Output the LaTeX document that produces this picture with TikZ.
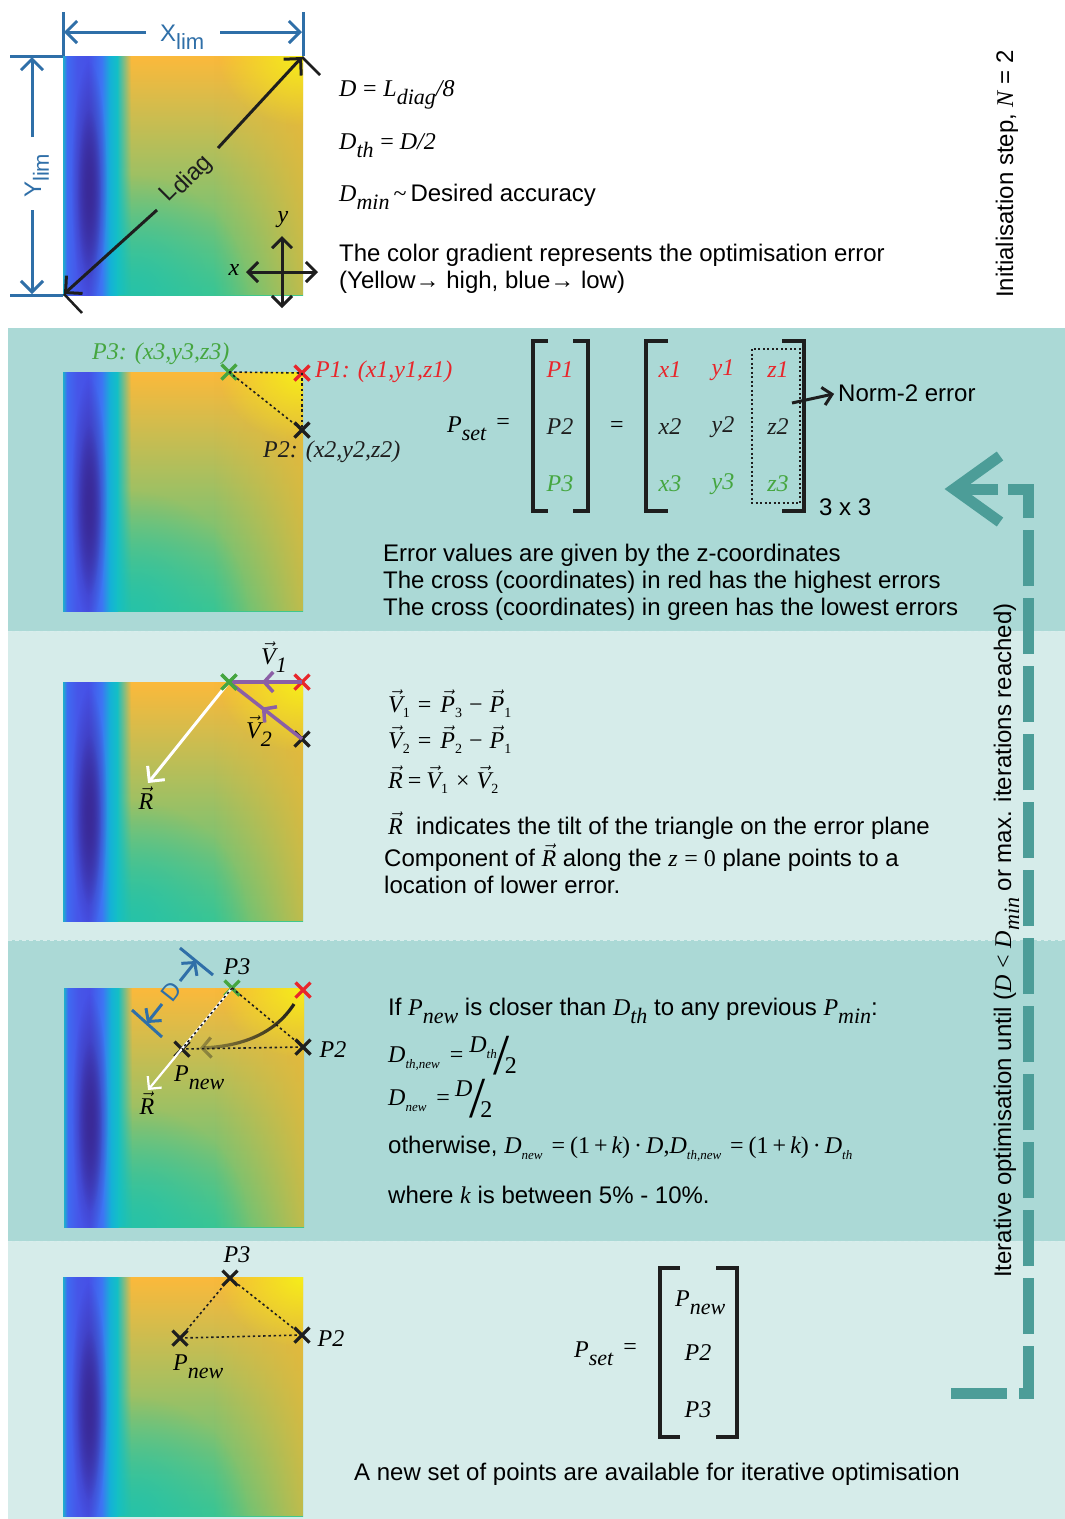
\documentclass[tikz,border=0pt]{standalone}
\usepackage{fontspec}
\setmainfont{Liberation Sans}
\newfontfamily\tms{Liberation Serif}
\usetikzlibrary{arrows.meta,shapes.misc,fadings,shadings,decorations.markings}

\definecolor{bandD}{HTML}{ABD9D6}
\definecolor{bandL}{HTML}{D6ECEA}
\definecolor{dimblue}{HTML}{2F6FA8}
\definecolor{ptgreen}{HTML}{45A640}
\definecolor{ptred}{HTML}{E8262B}
\definecolor{ink}{HTML}{1E1E1E}
\definecolor{purp}{HTML}{8B5FA6}
\definecolor{loopc}{HTML}{4C9D98}
\definecolor{hmOr}{HTML}{FBB93B}
\definecolor{hmMid}{HTML}{A0C748}
\definecolor{hmGr}{HTML}{40C78C}
\definecolor{hmYe}{HTML}{F6EE1A}
\definecolor{hmTe}{HTML}{27C2A8}
\definecolor{hmOy}{HTML}{EBB836}
\definecolor{hmDark}{HTML}{3A2A98}
\definecolor{hc0}{HTML}{1EB0CC}
\definecolor{hc1}{HTML}{3F6AF2}
\definecolor{hc2}{HTML}{4656E8}
\definecolor{hc3}{HTML}{4650E6}
\definecolor{hc4}{HTML}{3E74F4}
\definecolor{hc5}{HTML}{14B2D6}
\definecolor{hc6}{HTML}{14C0C4}

\pgfdeclarehorizontalshading{blueband}{100bp}{color(0bp)=(hc0); color(25bp)=(hc0); color(28.6bp)=(hc1); color(37.7bp)=(hc2); color(48bp)=(hc3); color(60bp)=(hc4); color(68bp)=(hc5); color(75bp)=(hc6); color(100bp)=(hc6)}

\tikzfading[name=fadeR, left color=transparent!0, right color=transparent!100]
\tikzfading[name=fadeRin, left color=transparent!100, right color=transparent!0]
\tikzfading[name=fadeL, left color=transparent!70, right color=transparent!0]
\tikzfading[name=radfade, inner color=transparent!0, outer color=transparent!100]

\newcommand\tmi[1]{{\tms\itshape #1}}
\newcommand\tmu[1]{{\tms #1}}
\newcommand\psub[1]{\raisebox{-8pt}{\fontsize{22}{22}\selectfont\tms\itshape #1}}
\newcommand\ssub[1]{\raisebox{-8pt}{\fontsize{22}{22}\selectfont #1}}
\newcommand\msub[1]{\raisebox{-5pt}{\fontsize{14}{14}\selectfont\tms #1}}
\newcommand\msubi[1]{\raisebox{-6pt}{\fontsize{13}{13}\selectfont\tms\itshape #1}}
\newcommand\vecl[1]{$\vec{\mbox{\tmi{#1}}}$}
\newcommand\bigsl{\raisebox{-12pt}{\fontsize{58}{58}\selectfont\tms /}}

\newcommand\hmap[2]{%
  \begin{scope}[shift={(#1,#2)}]
    \clip (0,0) rectangle (240,239);
    \shade[top color=hmOr, middle color=hmMid, bottom color=hmGr] (0,0) rectangle (240,239);
    \fill[hmOy, path fading=fadeRin, opacity=0.75] (150,0) rectangle (240,239);
    \fill[hmTe, path fading=radfade] (70,239) ellipse (115 and 120);
    \fill[hmYe, path fading=radfade] (240,0) ellipse (85 and 70);
    \shade[shading=blueband] (0,0) rectangle (55,239);
    \fill[hc6, path fading=fadeR] (54,0) rectangle (68,239);
    \fill[hmDark, path fading=radfade] (26,128) ellipse (18 and 122);
    \fill[hmDark, path fading=radfade] (26,138) ellipse (12 and 85);
  \end{scope}}

\begin{document}
\begin{tikzpicture}[x=1pt,y=-1pt, font=\fontsize{24}{28}\selectfont,
  xpt/.style={cross out, draw, line width=3.2pt, minimum size=15pt, inner sep=0pt, outer sep=0pt},
  dotl/.style={draw=ink, line width=1.6pt, dash pattern=on 2.4pt off 2.8pt},
  txt/.style={anchor=base west, inner sep=0pt},
  lbl/.style={inner sep=0pt},
  dimln/.style={dimblue, line width=3pt},
  brk/.style={ink, line width=4pt, line join=miter},
  barb/.style={-{Straight Barb[length=11pt,width=22pt]}},
  midarrow/.style={postaction={decorate, decoration={markings, mark=at position 0.55 with {\arrow[purp, line width=3.5pt]{Straight Barb[length=9pt,width=20pt]}}}}}
  ]
\fill[white] (0,0) rectangle (1065,1519);
\useasboundingbox (0,0) rectangle (1065,1519);

% ---------- bands ----------
\fill[bandD] (8,328) rectangle (1065,631);
\fill[bandL] (8,631) rectangle (1065,940);
\fill[bandD] (8,940) rectangle (1065,1241);
\fill[bandL] (8,1241) rectangle (1065,1519);
\draw[white!55!bandD, line width=1pt, dash pattern=on 4pt off 3pt] (8,631) -- (1065,631);
\draw[white!55!bandD, line width=1pt, dash pattern=on 4pt off 3pt] (8,940) -- (1065,940);
\draw[white!55!bandD, line width=1pt, dash pattern=on 4pt off 3pt] (8,1241) -- (1065,1241);

% ---------- heat maps ----------
\hmap{63}{56}
\hmap{63}{372}
\hmap{63}{682}
\hmap{64}{988}
\hmap{63}{1277}

% ---------- top section ----------
\draw[dimln] (63,12) -- (63,56);
\draw[dimln] (303,12) -- (303,56);
\draw[dimln] (10,56) -- (63,56);
\draw[dimln] (10,295) -- (63,295);
\node[txt, dimblue] (xlim) at (160,41) {X\ssub{lim}};
\coordinate (xa) at (146,32); \coordinate (xl) at (64,32);
\coordinate (xb) at (220,32); \coordinate (xr) at (302,32);
\draw[dimln, barb] (xa) -- (xl);
\draw[dimln, barb] (xb) -- (xr);
\node[txt, rotate=90, dimblue] (ylim) at (41,198) {Y\ssub{lim}};
\coordinate (ya) at (32,137); \coordinate (yt) at (32,57);
\coordinate (yb) at (32,210); \coordinate (ybt) at (32,294);
\draw[dimln, barb] (ya) -- (yt);
\draw[dimln, barb] (yb) -- (ybt);

\node[lbl, rotate=45, ink] (ldiag) at (187,179) {L\raisebox{-4pt}{diag}};
\coordinate (dgA) at (157,210); \coordinate (dgBL) at (64,294);
\coordinate (dgB) at (218,148); \coordinate (dgTR) at (302,57);
\draw[ink, line width=3pt, -{Straight Barb[length=12pt,width=24pt]}] (dgA) -- (dgBL);
\draw[ink, line width=3pt, -{Straight Barb[length=12pt,width=24pt]}] (dgB) -- (dgTR);
\coordinate (tkA) at (320,75); \coordinate (tkB) at (82,313);
\draw[ink, line width=2.5pt] (dgTR) -- (tkA);
\draw[ink, line width=2.5pt] (dgBL) -- (tkB);

\coordinate (axL) at (246,272); \coordinate (axR) at (318,272);
\coordinate (axT) at (282,236); \coordinate (axB) at (282,308);
\draw[ink, line width=3pt, {Straight Barb[length=10pt,width=20pt]}-{Straight Barb[length=10pt,width=20pt]}] (axL) -- (axR);
\draw[ink, line width=3pt, {Straight Barb[length=10pt,width=20pt]}-{Straight Barb[length=10pt,width=20pt]}] (axT) -- (axB);
\node[lbl] (axx) at (234,270) {\tmi{x}};
\node[lbl] (axy) at (283,220) {\tmi{y}};

\node[txt] (eqD) at (339,96) {\tmi{D} \tmu{=} \tmi{L}\psub{diag}\tmi{/8}};
\node[txt] (eqDth) at (339,149) {\tmi{D}\psub{th} \tmu{= }\tmi{D/2}};
\node[txt] (eqDmin) at (339,201) {\tmi{D}\psub{min}\,\tmu{\textasciitilde}\,Desired accuracy};
\node[txt] (grad1) at (339,261) {The color gradient represents the optimisation error};
\node[txt] (grad2) at (339,288) {(Yellow→ high, blue→ low)};
\node[txt, rotate=90] (init) at (1013,298) {Initialisation step, \tmi{N} = 2};

% ---------- band 1 ----------
\node[xpt, ptgreen] (a3) at (229,372) {};
\node[xpt, ptred] (a1) at (302,373) {};
\node[xpt, ink] (a2) at (302,430) {};
\draw[dotl] (a3.center) -- (a1.center);
\draw[dotl] (a1.center) -- (a2.center);
\draw[dotl] (a3.center) -- (a2.center);
\node[txt, ptgreen] (a3l) at (92,359) {\tmi{P3: (x3,y3,z3)}};
\node[txt, ptred] (a1l) at (315,377) {\tmi{P1: (x1,y1,z1)}};
\node[txt, ink] (a2l) at (263,457) {\tmi{P2: (x2,y2,z2)}};

\node[txt] (pset1) at (447,432) {\tmi{P}\psub{set}\hspace{10pt}\raisebox{3pt}{\tmu{=}}};
\draw[brk] (548,341) -- (533,341) -- (533,511) -- (548,511);
\draw[brk] (573,341) -- (588,341) -- (588,511) -- (573,511);
\node[lbl, ptred] (m1) at (560,370) {\tmi{P1}};
\node[lbl, ink] (m2) at (560,427) {\tmi{P2}};
\node[lbl, ptgreen] (m3) at (560,484) {\tmi{P3}};
\node[lbl] (meq) at (617,427) {\tmu{=}};
\draw[brk] (668,341) -- (646,341) -- (646,511) -- (668,511);
\draw[brk] (782,341) -- (804,341) -- (804,511) -- (782,511);
\node[lbl, ptred] (x1) at (670,370) {\tmi{x1}};
\node[lbl, ptred] (y1) at (723,370) {\tmi{y1}};
\node[lbl, ptred] (z1) at (778,370) {\tmi{z1}};
\node[lbl, ink] (x2) at (670,427) {\tmi{x2}};
\node[lbl, ink] (y2) at (723,427) {\tmi{y2}};
\node[lbl, ink] (z2) at (778,427) {\tmi{z2}};
\node[lbl, ptgreen] (x3) at (670,484) {\tmi{x3}};
\node[lbl, ptgreen] (y3) at (723,484) {\tmi{y3}};
\node[lbl, ptgreen] (z3) at (778,484) {\tmi{z3}};
\draw[ink, line width=1.3pt, dash pattern=on 2pt off 2.5pt] (752,349) rectangle (800,503);
\node[anchor=west, inner sep=0pt] (norm) at (838,393) {Norm-2 error};
\coordinate (nst) at (792,403);
\draw[ink, line width=3pt, -{Straight Barb[length=9pt,width=18pt]}, shorten >=4pt] (nst) -- (norm.west);
\node[anchor=west, inner sep=0pt] (dim33) at (819,507) {3 x 3};
\node[txt] (err1) at (383,561) {Error values are given by the z-coordinates};
\node[txt] (err2) at (383,588) {The cross (coordinates) in red has the highest errors};
\node[txt] (err3) at (383,615) {The cross (coordinates) in green has the lowest errors};

% ---------- band 2 ----------
\node[xpt, ptgreen] (b3) at (229,682) {};
\node[xpt, ptred] (b1) at (302,682) {};
\node[xpt, ink] (b2) at (302,739) {};
\coordinate (bR) at (148,783);
\draw[white, line width=3pt, -{Straight Barb[length=11pt,width=22pt]}] (b3.center) -- (bR);
\draw[purp, line width=3.5pt, midarrow] (b1.center) -- (b3.center);
\draw[purp, line width=3.5pt, midarrow] (b2.center) -- (b3.center);
\node[xpt, ptgreen] (b3top) at (229,682) {};
\node[lbl] (v1l) at (274,657) {\vecl{V}\psub{1}};
\node[lbl] (v2l) at (259,731) {\vecl{V}\psub{2}};
\node[lbl] (rl) at (146,798) {\vecl{R}};
\node[txt] (e1) at (388,712) {\vecl{V}\msub{1}\hspace{8pt}\tmu{=}\hspace{9pt}\vecl{P}\msub{3}\hspace{7pt}\tmu{−}\hspace{7pt}\vecl{P}\msub{1}};
\node[txt] (e2) at (388,748) {\vecl{V}\msub{2}\hspace{8pt}\tmu{=}\hspace{9pt}\vecl{P}\msub{2}\hspace{7pt}\tmu{−}\hspace{7pt}\vecl{P}\msub{1}};
\node[txt] (e3) at (388,788) {\vecl{R}\hspace{5pt}\tmu{=}\hspace{5pt}\vecl{V}\msub{1}\hspace{8pt}\tmu{×}\hspace{7pt}\vecl{V}\msub{2}};
\node[txt] (t1) at (388,834) {\vecl{R}\ \ indicates the tilt of the triangle on the error plane};
\node[txt] (t2) at (384,866) {Component of \vecl{R} along the \tmi{z} \tmu{= 0} plane points to a};
\node[txt] (t3) at (384,893) {location of lower error.};

% ---------- band 3 ----------
\node[xpt, ptgreen] (c3) at (232,988) {};
\node[xpt, ptred] (c1) at (303,990) {};
\node[xpt, ink] (c2) at (303,1047) {};
\node[xpt, ink] (cn) at (182,1049) {};
\coordinate (cR) at (148,1090);
\draw[white, line width=2.2pt, -{Straight Barb[length=9pt,width=18pt]}] (c3.center) -- (cR);
\draw[dotl] (c3.center) -- (cn.center);
\draw[dotl] (c3.center) -- (c2.center);
\draw[dotl] (c2.center) -- (cn.center);
\coordinate (cs) at (294,1004); \coordinate (ce) at (200,1048);
\draw[ink, line width=3.2pt, path fading=fadeL, -{Straight Barb[length=9pt,width=20pt]}] (cs) .. controls (276,1032) and (245,1046) .. (ce);
\node[lbl] (c3l) at (237,967) {\tmi{P3}};
\node[lbl] (c2l) at (333,1050) {\tmi{P2}};
\node[txt] (cnl) at (174,1081) {\tmi{P}\psub{new}};
\node[lbl] (cRl) at (147,1103) {\vecl{R}};
% D dimension
\draw[dimln] (180,948) -- (213,975);
\draw[dimln] (132,1010) -- (162,1037);
\node[lbl, rotate=51.7, dimblue] (dlab) at (171,992) {D};
\coordinate (dtu) at (196,961); \coordinate (dtl) at (147,1023);
\coordinate (dsu) at (180,981); \coordinate (dsl) at (162,1004);
\draw[dimln, -{Straight Barb[length=9pt,width=20pt]}] (dsu) -- (dtu);
\draw[dimln, -{Straight Barb[length=9pt,width=20pt]}] (dsl) -- (dtl);

\node[txt] (f1) at (388,1015) {If \tmi{P}\psub{new} is closer than \tmi{D}\psub{th} to any previous \tmi{P}\psub{min}:};
\node[txt] (f2) at (388,1062) {\tmi{D}\msubi{th,new}\hspace{10pt}\tmu{=}\hspace{6pt}\raisebox{10pt}{\tmi{D}\msubi{th}}\kern-3pt\bigsl\kern-5pt\raisebox{-11pt}{\tmu{2}}};
\node[txt] (f3) at (388,1105) {\tmi{D}\msubi{new}\hspace{10pt}\tmu{=}\hspace{5pt}\raisebox{9pt}{\tmi{D}}\kern-3pt\bigsl\kern-5pt\raisebox{-12pt}{\tmu{2}}};
\node[txt] (f4) at (388,1153) {otherwise, \tmi{D}\msubi{new}\hspace{9pt}\tmu{=\hspace{5pt}(1\hspace{4pt}+\hspace{4pt}}\tmi{k}\tmu{)\hspace{4pt}·\hspace{4pt}}\tmi{D}\tmu{,}\tmi{D}\msubi{th,new}\hspace{9pt}\tmu{=\hspace{5pt}(1\hspace{4pt}+\hspace{4pt}}\tmi{k}\tmu{)\hspace{4pt}·\hspace{4pt}}\tmi{D}\msubi{th}};
\node[txt] (f5) at (388,1203) {where \tmi{k} is between 5\% - 10\%.};

% ---------- band 4 ----------
\node[xpt, ink] (d3) at (230,1278) {};
\node[xpt, ink] (d2) at (302,1335) {};
\node[xpt, ink] (dn) at (180,1338) {};
\draw[dotl] (d3.center) -- (d2.center);
\draw[dotl] (d2.center) -- (dn.center);
\draw[dotl] (dn.center) -- (d3.center);
\node[lbl] (d3l) at (237,1255) {\tmi{P3}};
\node[lbl] (d2l) at (331,1339) {\tmi{P2}};
\node[txt] (dnl) at (173,1370) {\tmi{P}\psub{new}};
\node[txt] (pset2) at (574,1357) {\tmi{P}\psub{set}\hspace{10pt}\raisebox{3pt}{\tmu{=}}};
\draw[brk] (680,1268) -- (660,1268) -- (660,1437) -- (680,1437);
\draw[brk] (716,1268) -- (737,1268) -- (737,1437) -- (716,1437);
\node[txt] (n1) at (675,1306) {\tmi{P}\psub{new}};
\node[lbl] (n2) at (698,1353) {\tmi{P2}};
\node[lbl] (n3) at (698,1410) {\tmi{P3}};
\node[txt] (fin) at (354,1480) {A new set of points are available for iterative optimisation};

% ---------- loop arrow ----------
\draw[loopc, line width=11pt, dash pattern=on 56pt off 12pt] (951,1393) -- (1028,1393) -- (1028,489) -- (1008,489);
\draw[loopc, line width=11pt, line join=miter] (1000,456) -- (954,489) -- (1000,522);
\draw[loopc, line width=11pt] (960,489) -- (998,489);
\node[txt, rotate=90] (iter) at (1011,1278) {Iterative optimisation until (\tmi{D} \tmu{<} \tmi{D}\psub{min} or max. iterations reached)};
\end{tikzpicture}
\end{document}
